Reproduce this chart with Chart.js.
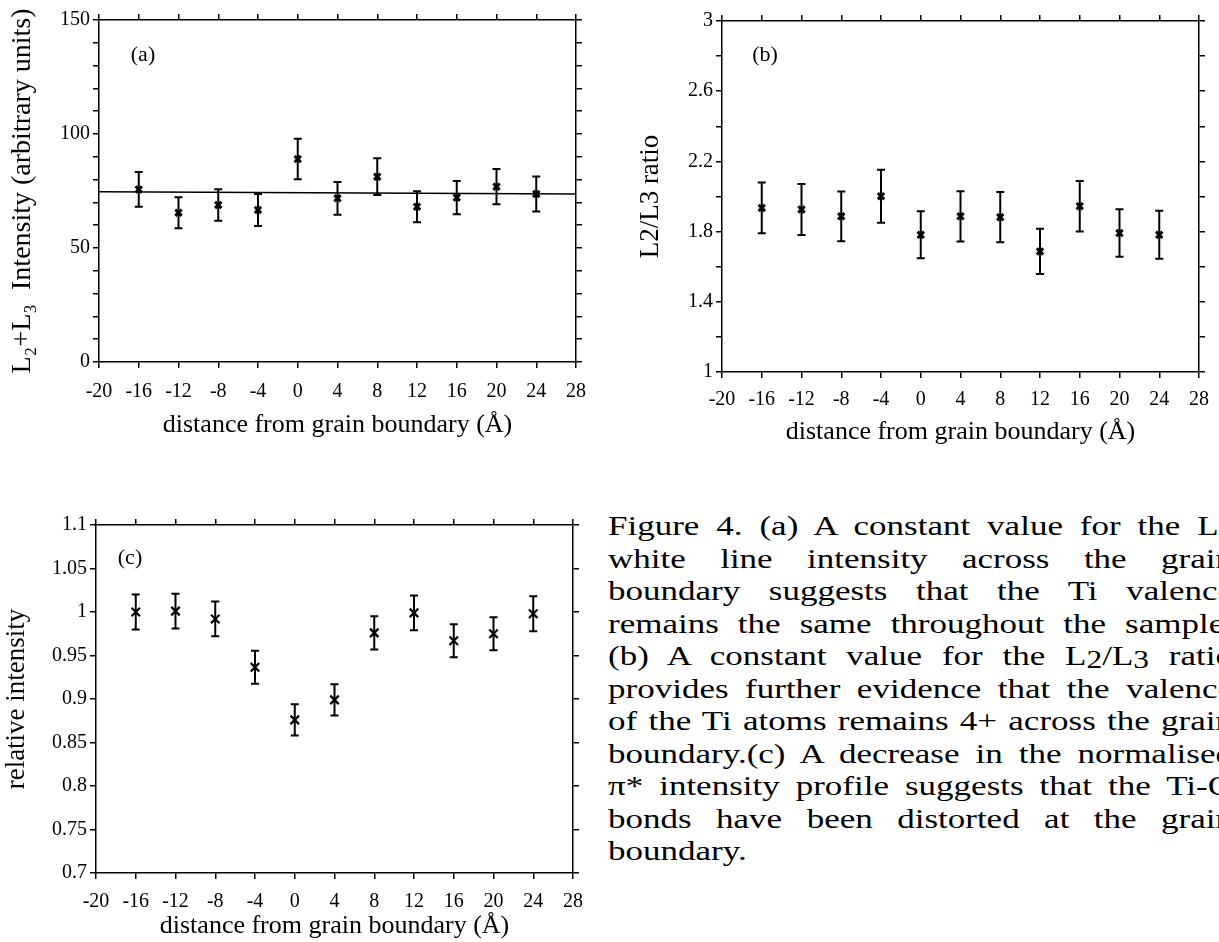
<!DOCTYPE html>
<html>
<head>
<meta charset="utf-8">
<script src="https://cdn.jsdelivr.net/npm/chart.js@4.4.0/dist/chart.umd.min.js"></script>
<style>
  html, body { margin: 0; padding: 0; background: #fff; width: 1219px; height: 942px; overflow: hidden; }
  canvas { position: absolute; }
  #caption {
    position: absolute; left: 608px; top: 510px;
    font-family: "Liberation Serif", "Times New Roman", serif;
    font-size: 28px; line-height: 32.5px; color: #000;
    transform: scaleX(1.25); transform-origin: 0 0;
  }
  #caption div { width: 500px; text-align: justify; text-align-last: justify; white-space: normal; }
  #caption div.first { width: 541px; }
  #caption div.last { text-align-last: left; }
  #caption .sub { font-size: 0.7em; vertical-align: -0.25em; line-height: 0; }
  #caption .low { font-size: 0.9em; vertical-align: -0.12em; line-height: 0; }
</style>
</head>
<body>
<canvas id="chartA" width="600" height="450" style="left:0;top:0"></canvas>
<canvas id="chartB" width="619" height="450" style="left:600px;top:0"></canvas>
<canvas id="chartC" width="600" height="472" style="left:0;top:470px"></canvas>

<div id="caption">
  <div class="first">Figure 4. (a) A constant value for the L<span class="sub">2</span>+L<span class="sub">3</span></div>
  <div>white line intensity across the grain</div>
  <div>boundary suggests that the Ti valence</div>
  <div>remains the same throughout the sample.</div>
  <div>(b) A constant value for the L<span class="low">2</span>/L<span class="low">3</span> ratio</div>
  <div>provides further evidence that the valence</div>
  <div>of the Ti atoms remains 4+ across the grain</div>
  <div>boundary.(c) A decrease in the normalised</div>
  <div>π* intensity profile suggests that the Ti-O</div>
  <div>bonds have been distorted at the grain</div>
  <div class="last">boundary.</div>
</div>

<script>
// distance from grain boundary (Å)
const distance = [-16, -12, -8, -4, 0, 4, 8, 12, 16, 20, 24];

// (a) L2+L3 intensity
const intensitySum = [75.7, 65.5, 68.9, 66.7, 89.0, 71.8, 81.3, 68.1, 72.1, 76.9, 73.7];
const intensitySumErr = [7.6, 6.8, 6.9, 7.0, 8.9, 7.2, 8.1, 6.8, 7.3, 7.7, 7.7];
const fitLineX = [-20, 28];
const fitLineY = [74.7, 73.7];

// (b) L2/L3 ratio
const ratio = [1.935, 1.926, 1.887, 2.002, 1.782, 1.887, 1.882, 1.687, 1.945, 1.792, 1.782];
const ratioErr = [0.145, 0.145, 0.142, 0.151, 0.134, 0.143, 0.143, 0.129, 0.144, 0.136, 0.137];

// (c) relative pi* intensity
const relIntensity = [1.0, 1.001, 0.992, 0.9365, 0.876, 0.899, 0.976, 0.999, 0.967, 0.975, 0.998];
const relIntensityErr = [0.02, 0.02, 0.02, 0.019, 0.018, 0.018, 0.019, 0.02, 0.019, 0.019, 0.02];

// axis ticks
const xRange = [-20, 28];
const xStep = 4;
const aYLabels = [0, 50, 100, 150];
const bYLabels = [1, 1.4, 1.8, 2.2, 2.6, 3];
const cYLabels = [0.7, 0.75, 0.8, 0.85, 0.9, 0.95, 1, 1.05, 1.1];

const ink = '#000';
const serif = 'Liberation Serif';
const tickFont = { family: serif, size: 20 };
const titleFont = { family: serif, size: 26 };
const xTitle = 'distance from grain boundary (Å)';

const toPoints = (xs, ys) => xs.map((x, i) => ({ x: x, y: ys[i] }));

function pickLabel(list, digits) {
  return v => list.some(t => Math.abs(t - v) < 1e-6) ? String(Number(v.toFixed(digits))) : '';
}

// error bars drawn with the chart's own scales
const errorBars = {
  id: 'errorBars',
  afterDatasetsDraw(chart) {
    const ctx = chart.ctx;
    const xs = chart.scales.x, ys = chart.scales.y;
    chart.data.datasets.forEach(ds => {
      if (!ds.errors) return;
      ctx.save();
      ctx.strokeStyle = ink;
      ctx.lineWidth = 2;
      ds.data.forEach((p, i) => {
        const px = xs.getPixelForValue(p.x);
        const top = ys.getPixelForValue(p.y + ds.errors[i]);
        const bot = ys.getPixelForValue(p.y - ds.errors[i]);
        ctx.beginPath();
        ctx.moveTo(px, top); ctx.lineTo(px, bot);
        ctx.moveTo(px - 4, top); ctx.lineTo(px + 4, top);
        ctx.moveTo(px - 4, bot); ctx.lineTo(px + 4, bot);
        ctx.stroke();
      });
      ctx.restore();
    });
  }
};

// "(a)" style panel label inside the plot
const panelLabel = {
  id: 'panelLabel',
  afterDraw(chart, args, opts) {
    const { ctx, chartArea } = chart;
    ctx.save();
    ctx.fillStyle = ink;
    ctx.font = '22px "' + serif + '"';
    ctx.textAlign = 'center';
    ctx.textBaseline = 'middle';
    ctx.fillText(opts.text, chartArea.left + opts.dx, chartArea.top + opts.dy);
    ctx.restore();
  }
};

function axes(o) {
  const grid = { drawOnChartArea: false, drawTicks: true, tickLength: 6, color: ink, lineWidth: 1.5 };
  const border = { display: true, color: ink, width: 1.5 };
  return {
    x: {
      type: 'linear', position: 'bottom', min: xRange[0], max: xRange[1], grid: grid, border: border,
      ticks: { stepSize: xStep, autoSkip: false, maxRotation: 0, color: ink, font: tickFont, padding: o.xTickPad },
      title: { display: true, text: xTitle, color: ink, font: titleFont, padding: { top: 0, bottom: o.xTitlePad } },
      afterFit: s => { s.height = o.bottom; }
    },
    x2: {
      type: 'linear', position: 'top', min: xRange[0], max: xRange[1], grid: grid, border: border,
      ticks: { display: false, stepSize: xStep },
      afterFit: s => { s.height = o.top; }
    },
    y: {
      type: 'linear', position: 'left', min: o.yMin, max: o.yMax, grid: grid, border: border,
      ticks: { stepSize: o.yStep, autoSkip: false, color: ink, font: tickFont, padding: 3, callback: o.yCallback },
      title: {
        display: true, text: o.yTitle, color: ink,
        font: { family: serif, size: o.yTitleSize }, padding: { top: o.yTitlePad, bottom: 0 }
      },
      afterFit: s => { s.width = o.left; }
    },
    y2: {
      type: 'linear', position: 'right', min: o.yMin, max: o.yMax, grid: grid, border: border,
      ticks: { display: false, stepSize: o.yStep },
      afterFit: s => { s.width = o.right; }
    }
  };
}

function makeChart(id, datasets, axisOpts, label) {
  return new Chart(document.getElementById(id), {
    type: 'scatter',
    data: { datasets: datasets },
    options: {
      responsive: false,
      animation: false,
      events: [],
      layout: { padding: 0 },
      plugins: { legend: { display: false }, tooltip: { enabled: false }, panelLabel: label },
      scales: axes(axisOpts)
    },
    plugins: [errorBars, panelLabel]
  });
}

makeChart('chartA', [
  {
    data: toPoints(distance, intensitySum), errors: intensitySumErr,
    pointStyle: 'crossRot', pointRadius: 4.5, borderColor: ink, borderWidth: 3, showLine: false
  },
  {
    data: toPoints(fitLineX, fitLineY), showLine: true, pointRadius: 0,
    borderColor: ink, borderWidth: 1.5
  }
], {
  top: 20, bottom: 88, left: 99, right: 24,
  xTickPad: 12, xTitlePad: 9,
  yMin: 0, yMax: 150, yStep: 10, yCallback: pickLabel(aYLabels, 0),
  yTitle: 'L₂+L₃  Intensity (arbitrary units)', yTitleSize: 28, yTitlePad: 6
}, { text: '(a)', dx: 44, dy: 35 });

makeChart('chartB', [
  {
    data: toPoints(distance, ratio), errors: ratioErr,
    pointStyle: 'crossRot', pointRadius: 4.5, borderColor: ink, borderWidth: 3, showLine: false
  }
], {
  top: 21, bottom: 78, left: 122, right: 16,
  xTickPad: 10, xTitlePad: 2,
  yMin: 1, yMax: 3, yStep: 0.2, yCallback: pickLabel(bYLabels, 1),
  yTitle: 'L2/L3 ratio', yTitleSize: 27, yTitlePad: 35
}, { text: '(b)', dx: 43, dy: 34 });

makeChart('chartC', [
  {
    data: toPoints(distance, relIntensity), errors: relIntensityErr,
    pointStyle: 'crossRot', pointRadius: 6, borderColor: ink, borderWidth: 2.2, showLine: false
  }
], {
  top: 55, bottom: 69, left: 96, right: 27,
  xTickPad: 11, xTitlePad: 0,
  yMin: 0.7, yMax: 1.1, yStep: 0.05, yCallback: pickLabel(cYLabels, 2),
  yTitle: 'relative intensity', yTitleSize: 27, yTitlePad: 1
}, { text: '(c)', dx: 34, dy: 33 });
</script>
</body>
</html>
